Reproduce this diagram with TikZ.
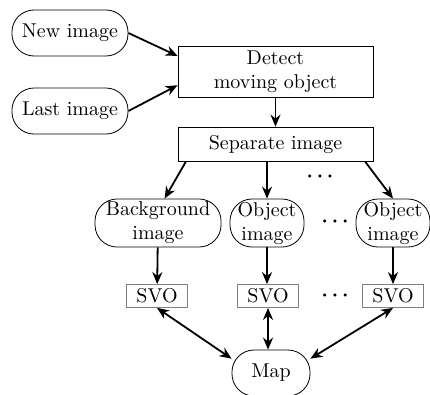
\documentclass[tikz,border=0pt]{standalone}
\usepackage{tikz}
\usetikzlibrary{arrows.meta}

\begin{document}
\begin{tikzpicture}[
    pill/.style={draw, rounded corners=11pt, inner sep=1pt, align=center, minimum height=23pt},
    block/.style={draw, inner sep=1pt, align=center, minimum width=97.5pt},
    svobox/.style={draw=gray, inner sep=1pt, minimum width=30.5pt, minimum height=11.5pt},
    dotsnode/.style={font=\boldmath},
    arr/.style={-{Stealth[length=6pt, width=5pt]}, line width=0.9pt},
    biarr/.style={{Stealth[length=6pt, width=5pt]}-{Stealth[length=6pt, width=5pt]}, line width=0.9pt}]
    % Fix the frame
    \useasboundingbox (0,0) rectangle (7.556,-6.941);

    % Input images
    \node[pill, minimum width=58pt] (new) at (1.230,-0.580) {New image};
    \node[pill, minimum width=58pt] (last) at (1.230,-1.951) {Last image};

    % Processing steps
    \node[block, minimum height=25.5pt] (detect) at (4.841,-1.256) {Detect\\moving object};
    \node[block, minimum height=17pt] (separate) at (4.841,-2.531) {Separate image};

    % Separated images
    \node[pill, minimum width=63pt, minimum height=24pt] (bg) at (2.777,-3.919) {Background\\image};
    \node[pill, minimum width=37pt, minimum height=24pt] (obj1) at (4.692,-3.919) {Object\\image};
    \node[pill, minimum width=37pt, minimum height=24pt] (obj2) at (6.906,-3.919) {Object\\image};

    % SVO boxes
    \node[svobox] (svo1) at (2.759,-5.202) {SVO};
    \node[svobox] (svo2) at (4.710,-5.202) {SVO};
    \node[svobox] (svo3) at (6.906,-5.202) {SVO};

    % Map
    \node[pill, minimum width=39pt] (map) at (4.762,-6.555) {Map};

    % Dots
    \node[dotsnode] (dots1) at (5.623,-3.110) {$\cdots$};
    \node[dotsnode] (dots2) at (5.887,-3.901) {$\cdots$};
    \node[dotsnode] (dots3) at (5.887,-5.202) {$\cdots$};

    % Arrows
    \draw[arr] (new.east) -- (detect.171);
    \draw[arr] (last.east) -- (detect.188);
    \draw[arr] (detect) -- (separate);
    \draw[arr] (separate.191) -- (bg.75);
    \draw[arr] (separate.south -| obj1.north) -- (obj1.north);
    \draw[arr] (separate.349) -- (obj2.north);
    \draw[arr] (bg) -- (svo1);
    \draw[arr] (obj1) -- (obj1 |- svo2.north);
    \draw[arr] (obj2) -- (svo3);
    \draw[biarr] (svo1.south) -- (map.160);
    \draw[biarr] (svo2.south) -- (svo2.south |- map.north);
    \draw[biarr] (svo3.south) -- (map.20);
\end{tikzpicture}
\end{document}
